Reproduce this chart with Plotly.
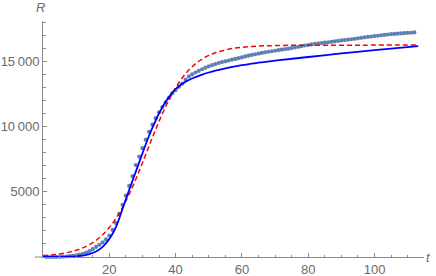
import plotly.graph_objects as go

# observed data (day, cumulative count)
days = list(range(1, 113))
observed = [0, 1, 3, 6, 12, 22, 38, 60, 90, 130,
            180, 250, 340, 450, 600, 770, 930, 1120, 1350, 1650,
            2080, 2600, 3300, 4000, 4700, 5450, 6200, 7050, 7700, 8350,
            9000, 9600, 10150, 10650, 11100, 11500, 11850, 12200, 12550, 12800,
            13050, 13300, 13600, 13850, 14000, 14150, 14280, 14400, 14520, 14620,
            14710, 14800, 14880, 14950, 15010, 15070, 15130, 15190, 15250, 15310,
            15380, 15440, 15500, 15550, 15600, 15650, 15700, 15740, 15780, 15820,
            15860, 15900, 15940, 15980, 16020, 16070, 16120, 16170, 16220, 16260,
            16300, 16340, 16380, 16410, 16440, 16470, 16500, 16530, 16570, 16610,
            16640, 16670, 16700, 16730, 16770, 16810, 16850, 16880, 16910, 16940,
            16970, 17000, 17030, 17060, 17090, 17110, 17130, 17150, 17170, 17190,
            17200, 17220]

# fitted curves
curve_t = [0, 4, 8, 10, 12, 14, 16, 18, 20, 22, 24, 26, 28, 30, 32, 34, 36, 38,
           40, 42, 44, 46, 48, 50, 52, 56, 60, 65, 70, 80, 90, 100, 113.2]
red_fit = [106, 200, 375, 512, 699, 946, 1274, 1705, 2257, 2955, 3806, 4818, 5968,
           7219, 8517, 9789, 10987, 12055, 12973, 13731, 14340, 14817, 15184, 15462,
           15670, 15939, 16084, 16175, 16216, 16243, 16248, 16250, 16250]
blue_fit = [0, 5, 25, 55, 110, 220, 420, 780, 1380, 2300, 3700, 5150, 6550, 7950,
            9300, 10480, 11480, 12280, 12880, 13290, 13580, 13800, 13990, 14150,
            14290, 14530, 14720, 14900, 15060, 15340, 15610, 15870, 16170]

x_tickvals = [20, 40, 60, 80, 100]
x_ticktext = ["20", "40", "60", "80", "100"]
y_tickvals = [5000, 10000, 15000]
y_ticktext = ["5000", "10\u2009000", "15\u2009000"]

axis_color = "#8a8a8a"
label_color = "#6a6a6a"
font_family = "Liberation Sans, Arial, sans-serif"

fig = go.Figure()
fig.add_trace(go.Scatter(x=days, y=observed, mode="markers",
                         marker=dict(color="#5E81B5", size=4.2, line=dict(width=0)),
                         showlegend=False, cliponaxis=False))
fig.add_trace(go.Scatter(x=curve_t, y=red_fit, mode="lines",
                         line=dict(color="#FF0000", width=1.5, dash="5px,3px", shape="spline", smoothing=1),
                         showlegend=False))
fig.add_trace(go.Scatter(x=curve_t, y=blue_fit, mode="lines",
                         line=dict(color="#0000FF", width=1.8, shape="spline", smoothing=1),
                         showlegend=False))

fig.update_layout(
    width=436, height=276,
    margin=dict(l=43, r=12, t=21, b=19, autoexpand=False),
    paper_bgcolor="white", plot_bgcolor="white",
    font=dict(family=font_family, size=13, color=label_color),
    xaxis=dict(range=[0, 114.93], showgrid=False, zeroline=False, automargin=False,
               showline=True, linecolor=axis_color, linewidth=1,
               ticks="inside", ticklen=4, tickcolor=axis_color, tickwidth=1,
               tickmode="array", tickvals=x_tickvals, ticktext=x_ticktext,
               minor=dict(tickmode="linear", tick0=0, dtick=5, ticks="inside",
                          ticklen=2.5, tickcolor=axis_color, tickwidth=1),
               tickfont=dict(size=13, color=label_color)),
    yaxis=dict(range=[0, 18100], showgrid=False, zeroline=False, automargin=False,
               showline=True, linecolor=axis_color, linewidth=1,
               ticks="inside", ticklen=4, tickcolor=axis_color, tickwidth=1,
               tickmode="array", tickvals=y_tickvals, ticktext=y_ticktext,
               minor=dict(tickmode="linear", tick0=0, dtick=1000, ticks="inside",
                          ticklen=2.5, tickcolor=axis_color, tickwidth=1),
               tickfont=dict(size=13, color=label_color)),
    shapes=[dict(type="line", xref="paper", yref="paper", x0=-8 / 381, x1=0, y0=0, y1=0,
                 line=dict(color=axis_color, width=1))],
    annotations=[
        dict(text="<i>R</i>", xref="paper", yref="paper", x=-3 / 381, y=1 + 13 / 236,
             showarrow=False, font=dict(size=13, color=label_color), xanchor="center", yanchor="middle"),
        dict(text="<i>t</i>", xref="paper", yref="paper", x=1 + 5 / 381, y=0,
             showarrow=False, font=dict(size=13, color=label_color), xanchor="center", yanchor="middle"),
    ],
)

fig.write_html("out.html", config={"displayModeBar": False},
               post_script="document.body.style.margin='0';document.body.style.overflow='hidden';")
